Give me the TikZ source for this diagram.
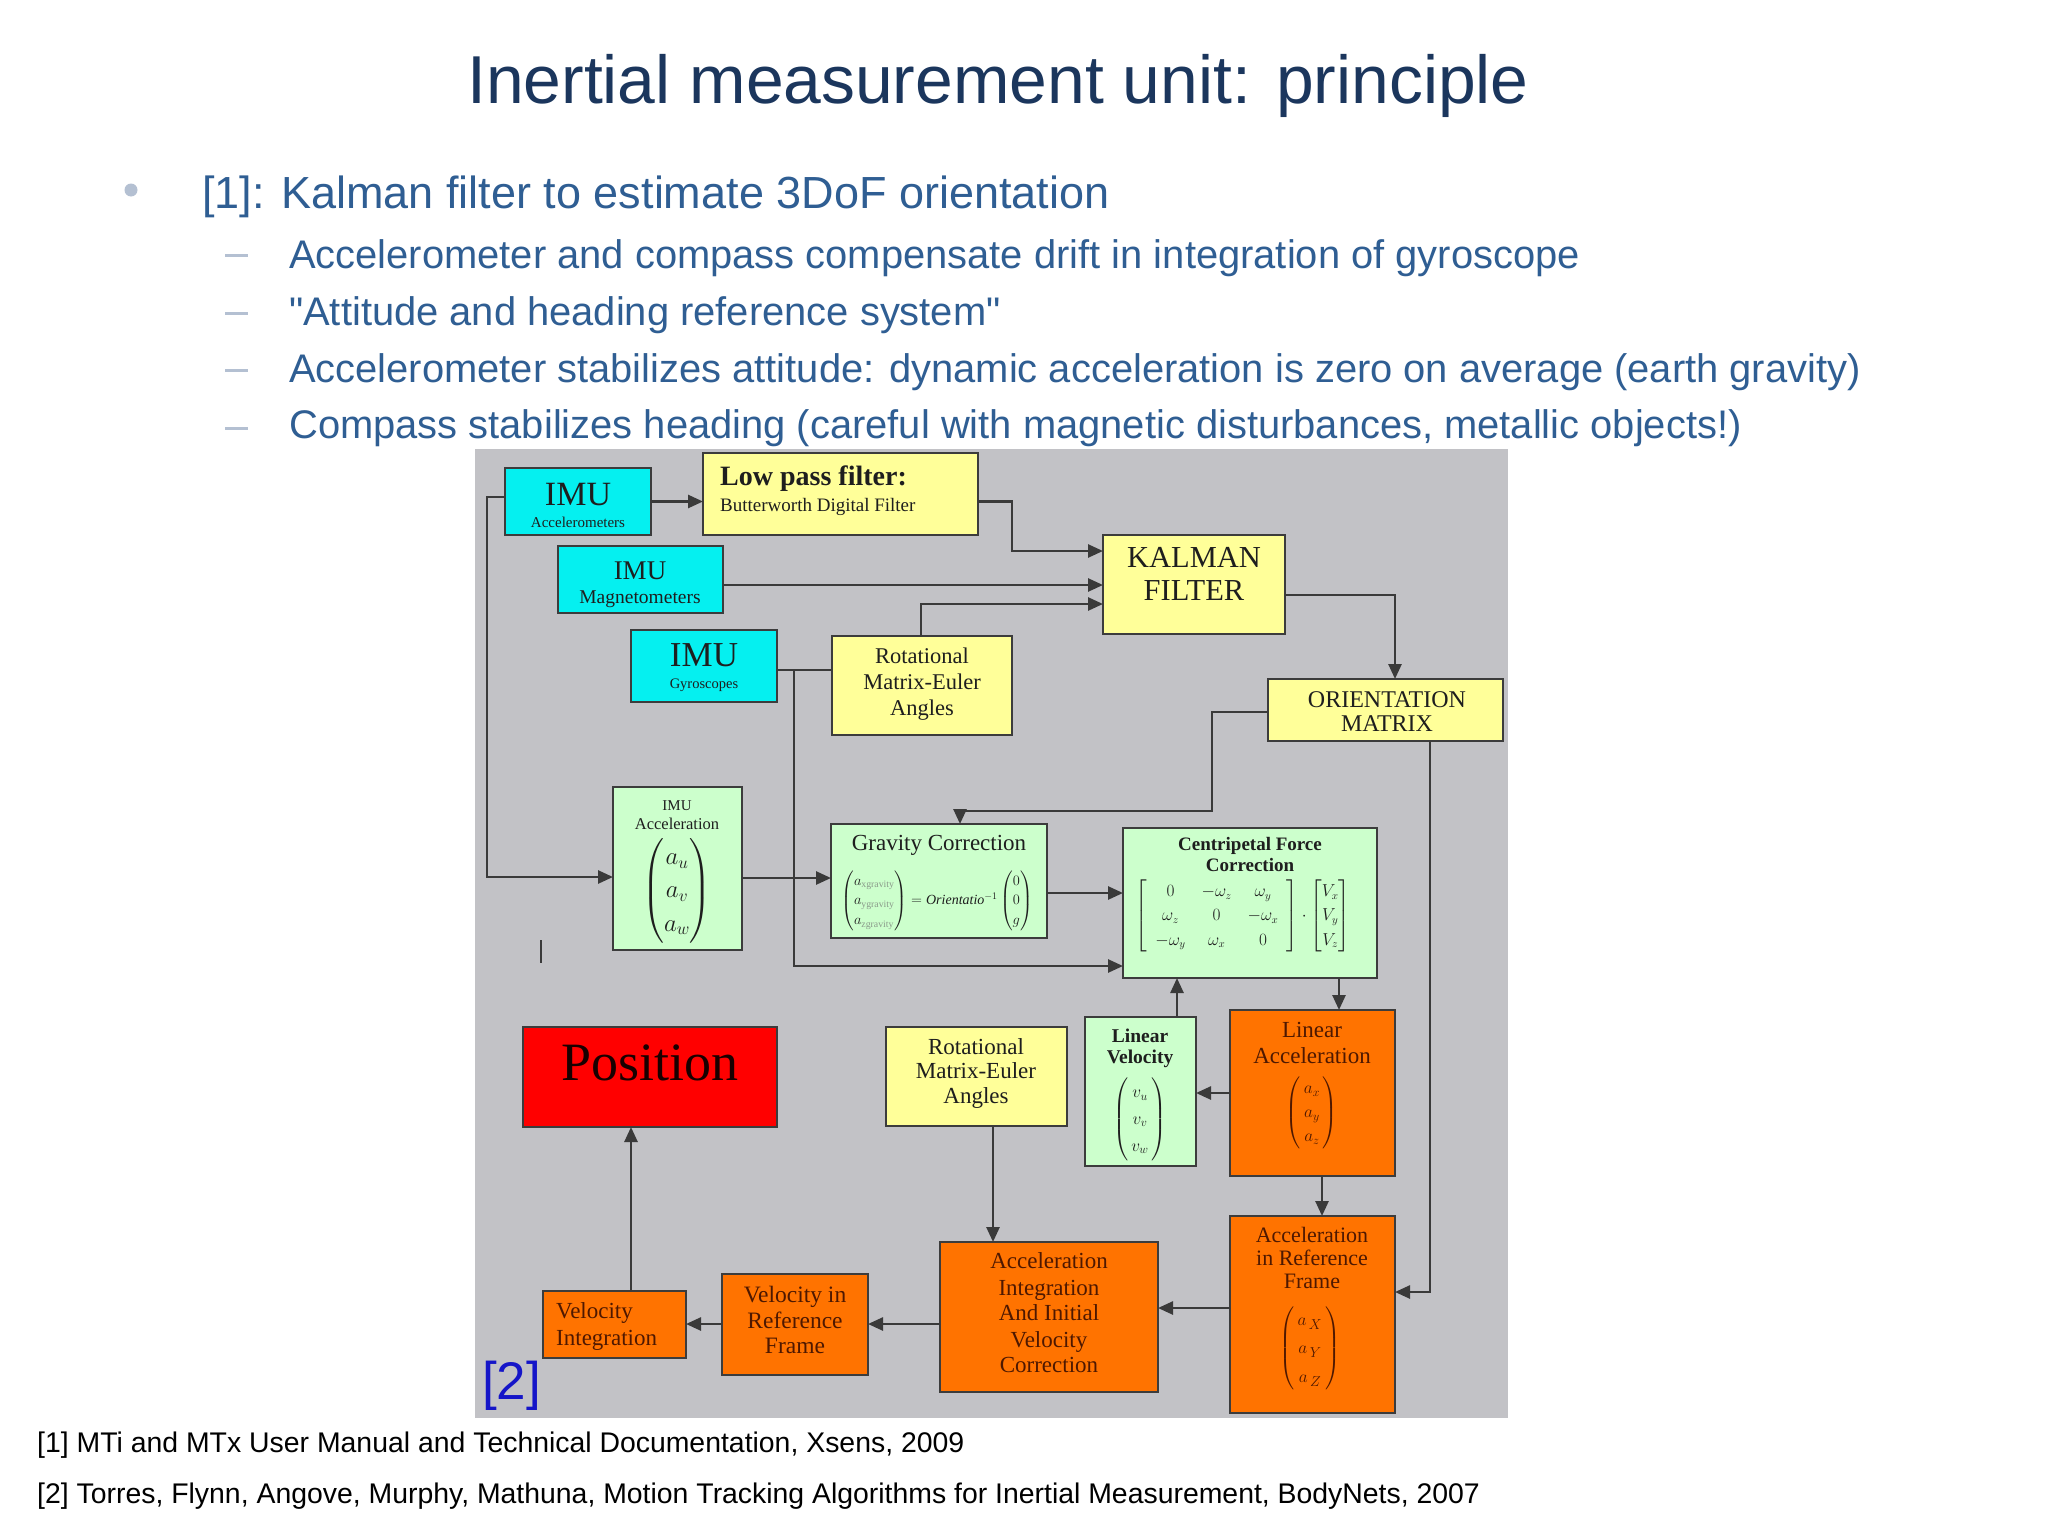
\documentclass[tikz,border=0pt]{standalone}
\usepackage{amsmath}
\usepackage{fontspec}
\setmainfont{Liberation Serif}
\setsansfont{Liberation Sans}
\newfontfamily\qsans{Liberation Sans}
\usetikzlibrary{arrows.meta}
\newcommand{\fsz}[1]{\fontsize{#1}{#1}\selectfont}
\definecolor{bggray}{HTML}{C2C2C6}
\definecolor{cyanc}{HTML}{05F0F0}
\definecolor{ylw}{HTML}{FFFF99}
\definecolor{grn}{HTML}{CCFFCC}
\definecolor{org}{HTML}{FF7300}
\definecolor{redc}{HTML}{FF0000}
\definecolor{boxline}{HTML}{3C3C3C}
\definecolor{linec}{HTML}{3A3A3A}
\definecolor{tdark}{HTML}{1E1E1E}
\definecolor{tbrown}{HTML}{4E1800}
\definecolor{titlec}{HTML}{1B365D}
\definecolor{bodyc}{HTML}{2F5E93}
\definecolor{dashc}{HTML}{B4C0D2}
\definecolor{refblue}{HTML}{1515C8}
\definecolor{subgray}{HTML}{8A9A8A}
\tikzset{
  bx/.style={draw=boxline, line width=2.6pt, inner sep=0pt, outer sep=0pt},
  cyanbox/.style={bx, fill=cyanc},
  ylwbox/.style={bx, fill=ylw},
  grnbox/.style={bx, fill=grn},
  orgbox/.style={bx, fill=org},
  redbox/.style={bx, fill=redc},
  txt/.style={inner sep=0pt, anchor=base, text=tdark},
  otxt/.style={txt, text=tbrown},
  mth/.style={inner sep=0pt, anchor=center, text=tdark},
  conn/.style={draw=linec, line width=2.6pt},
  arr/.style={conn, -{Triangle[length=15pt,width=13pt]}},
  dashmark/.style={fill=dashc, minimum width=23pt, minimum height=3pt, inner sep=0pt},
  sub/.style={anchor=base west, inner sep=0pt, text=bodyc, font=\sffamily\fsz{39.9}},
}
\begin{document}
\begin{tikzpicture}[x=1pt,y=-1pt]
\useasboundingbox (0,0) rectangle (2048,1536);
\fill[white] (0,0) rectangle (2048,1536);

% ---------- slide text ----------
\node[anchor=base, inner sep=0pt, text=titlec, font=\sffamily\fsz{67.8}] (title) at (998,104) {Inertial measurement unit: principle};
\node[circle, fill=dashc, minimum size=13pt, inner sep=0pt] (dot) at (131,190) {};
\node[anchor=base west, inner sep=0pt, text=bodyc, font=\sffamily\fsz{45}] (b1) at (202,208) {[1]: Kalman filter to estimate 3DoF orientation};
\node[dashmark] (dm1) at (236.5,255) {};
\node[dashmark] (dm2) at (236.5,313) {};
\node[dashmark] (dm3) at (236.5,370) {};
\node[dashmark] (dm4) at (236.5,428) {};
\node[sub] (s1) at (289,268) {Accelerometer and compass compensate drift in integration of gyroscope};
\node[sub, font=\qsans\fsz{39.9}] (s2) at (289,325) {"Attitude and heading reference system"};
\node[sub] (s3) at (289,382) {Accelerometer stabilizes attitude: dynamic acceleration is zero on average (earth gravity)};
\node[sub] (s4) at (289,438) {Compass stabilizes heading (careful with magnetic disturbances, metallic objects!)};
\node[anchor=base west, inner sep=0pt, text=black, font=\sffamily\fsz{28.4}] (fn1) at (37,1452) {[1] MTi and MTx User Manual and Technical Documentation, Xsens, 2009};
\node[anchor=base west, inner sep=0pt, text=black, font=\sffamily\fsz{28.4}] (fn2) at (37,1503) {[2] Torres, Flynn, Angove, Murphy, Mathuna, Motion Tracking Algorithms for Inertial Measurement, BodyNets, 2007};

% ---------- diagram background ----------
\node[fill=bggray, minimum width=1033pt, minimum height=969pt, inner sep=0pt] (bg) at (991.5,933) {};

% ---------- boxes ----------
\node[cyanbox, minimum width=146pt, minimum height=67pt] (acc) at (578,501.5) {};
\node[ylwbox, minimum width=275pt, minimum height=82pt] (lpf) at (840.5,494) {};
\node[cyanbox, minimum width=165pt, minimum height=67pt] (mag) at (640.5,579.5) {};
\node[ylwbox, minimum width=182pt, minimum height=99pt] (kal) at (1194,584.5) {};
\node[cyanbox, minimum width=146pt, minimum height=72pt] (gyr) at (704,666) {};
\node[ylwbox, minimum width=180pt, minimum height=99pt] (rot1) at (922,685.5) {};
\node[ylwbox, minimum width=235pt, minimum height=62pt] (ori) at (1385.5,710) {};
\node[grnbox, minimum width=129pt, minimum height=163pt] (imuacc) at (677.5,868.5) {};
\node[grnbox, minimum width=216pt, minimum height=114pt] (grav) at (939,881) {};
\node[grnbox, minimum width=254pt, minimum height=150pt] (cent) at (1250,903) {};
\node[redbox, minimum width=254pt, minimum height=100pt] (pos) at (650,1077) {};
\node[ylwbox, minimum width=181pt, minimum height=99pt] (rot2) at (976.5,1076.5) {};
\node[grnbox, minimum width=111pt, minimum height=149pt] (linvel) at (1140.5,1091.5) {};
\node[orgbox, minimum width=165pt, minimum height=166pt] (linacc) at (1312.5,1093) {};
\node[orgbox, minimum width=165pt, minimum height=197pt] (accref) at (1312.5,1314.5) {};
\node[orgbox, minimum width=218pt, minimum height=150pt] (accint) at (1049,1317) {};
\node[orgbox, minimum width=146pt, minimum height=101pt] (velref) at (795,1324.5) {};
\node[orgbox, minimum width=143pt, minimum height=67pt] (velint) at (614.5,1324.5) {};

% ---------- box texts ----------
\node[txt, font=\fsz{34}] (acc1) at (578,505) {IMU};
\node[txt, font=\fsz{15}] (acc2) at (578,527) {Accelerometers};
\node[txt, anchor=base west, font=\bfseries\fsz{28}] (lpf1) at (720,485) {Low pass filter:};
\node[txt, anchor=base west, font=\fsz{19}] (lpf2) at (720,511) {Butterworth Digital Filter};
\node[txt, font=\fsz{27}] (mag1) at (640,579) {IMU};
\node[txt, font=\fsz{19.5}] (mag2) at (640,603) {Magnetometers};
\node[txt, font=\fsz{35}] (gyr1) at (704,666) {IMU};
\node[txt, font=\fsz{14.5}] (gyr2) at (704,688) {Gyroscopes};
\node[txt, font=\fsz{30.5}] (kal1) at (1194,567) {KALMAN};
\node[txt, font=\fsz{30.5}] (kal2) at (1194,600) {FILTER};
\node[txt, font=\fsz{22.5}] (rta) at (922,663) {Rotational};
\node[txt, font=\fsz{22.5}] (rtb) at (922,689) {Matrix-Euler};
\node[txt, font=\fsz{22.5}] (rtc) at (922,715) {Angles};
\node[txt, font=\fsz{24}] (ori1) at (1387,707) {ORIENTATION};
\node[txt, font=\fsz{24}] (ori2) at (1387,731) {MATRIX};
\node[txt, font=\fsz{15}] (ia1) at (677,810) {IMU};
\node[txt, font=\fsz{16.5}] (ia2) at (677,829) {Acceleration};
\node[mth, font=\fsz{23}] (ia3) at (677,891) {\renewcommand{\arraystretch}{1.45}$\left(\begin{array}{@{}c@{}}a_u\\a_v\\a_w\end{array}\right)$};
\node[txt, font=\fsz{23}] (gr1) at (939,850) {Gravity Correction};
\node[mth, font=\fsz{14}] (gr2) at (937,901) {\renewcommand{\arraystretch}{1.42}$\left(\begin{array}{@{}l@{}}a_{\color{subgray}\mathrm{xgravity}}\\a_{\color{subgray}\mathrm{ygravity}}\\a_{\color{subgray}\mathrm{zgravity}}\end{array}\right)=\mathit{Orientatio}^{-1}\left(\begin{array}{@{}c@{}}0\\0\\g\end{array}\right)$};
\node[txt, font=\bfseries\fsz{19}] (ce1) at (1250,850) {Centripetal Force};
\node[txt, font=\bfseries\fsz{19}] (ce2) at (1250,871) {Correction};
\node[mth, font=\fsz{16}] (ce3) at (1243,916) {\renewcommand{\arraystretch}{1.52}\setlength{\arraycolsep}{8pt}$\left[\begin{array}{ccc}0&-\omega_z&\omega_y\\ \omega_z&0&-\omega_x\\ -\omega_y&\omega_x&0\end{array}\right]\cdot\left[\begin{array}{@{}c@{}}V_x\\V_y\\V_z\end{array}\right]$};
\node[txt, text=black!90!red, font=\fsz{54}] (po1) at (650,1080) {Position};
\node[txt, font=\fsz{23}] (rua) at (976,1054) {Rotational};
\node[txt, font=\fsz{23}] (rub) at (976,1078) {Matrix-Euler};
\node[txt, font=\fsz{23}] (ruc) at (976,1103) {Angles};
\node[txt, font=\bfseries\fsz{19.5}] (lv1) at (1140,1042) {Linear};
\node[txt, font=\bfseries\fsz{19.5}] (lv2) at (1140,1063) {Velocity};
\node[mth, font=\fsz{17}] (lv3) at (1140,1119) {\renewcommand{\arraystretch}{1.58}$\left(\begin{array}{@{}c@{}}\,v_u\,\\\,v_v\,\\\,v_w\,\end{array}\right)$};
\node[otxt, font=\fsz{23}] (la1) at (1312,1037) {Linear};
\node[otxt, font=\fsz{23}] (la2) at (1312,1063) {Acceleration};
\node[mth, text=tbrown, font=\fsz{17}] (la3) at (1312,1113) {\renewcommand{\arraystretch}{1.41}$\left(\begin{array}{@{}c@{}}\,a_x\,\\\,a_y\,\\\,a_z\,\end{array}\right)$};
\node[otxt, font=\fsz{22}] (ar1) at (1312,1242) {Acceleration};
\node[otxt, font=\fsz{22}] (ar2) at (1312,1265) {in Reference};
\node[otxt, font=\fsz{22}] (ar3) at (1312,1288) {Frame};
\node[mth, text=tbrown, font=\fsz{19}] (ar4) at (1310,1348) {\renewcommand{\arraystretch}{1.5}$\left(\begin{array}{@{}c@{}}\,a_{\,X}\,\\\,a_{\,Y}\,\\\,a_{\,Z}\,\end{array}\right)$};
\node[otxt, font=\fsz{23}] (ai1) at (1049,1268) {Acceleration};
\node[otxt, font=\fsz{23}] (ai2) at (1049,1295) {Integration};
\node[otxt, font=\fsz{23}] (ai3) at (1049,1320) {And Initial};
\node[otxt, font=\fsz{23}] (ai4) at (1049,1347) {Velocity};
\node[otxt, font=\fsz{23}] (ai5) at (1049,1372) {Correction};
\node[otxt, font=\fsz{23.5}] (vr1) at (795,1302) {Velocity in};
\node[otxt, font=\fsz{23.5}] (vr2) at (795,1328) {Reference};
\node[otxt, font=\fsz{23.5}] (vr3) at (795,1353) {Frame};
\node[otxt, anchor=base west, font=\fsz{23}] (vi1) at (556,1318) {Velocity};
\node[otxt, anchor=base west, font=\fsz{23}] (vi2) at (556,1345) {Integration};
\node[anchor=base west, inner sep=0pt, text=refblue, font=\sffamily\fsz{53}] (ref2) at (482,1399) {[2]};

% ---------- connectors ----------
\coordinate (b1c) at (1012,501.5);
\coordinate (b2c) at (1012,551);
\coordinate (c1c) at (723,585);
\coordinate (d1c) at (921,604);
\coordinate (e1c) at (1395,595);
\coordinate (f1c) at (1212,712);
\coordinate (f2c) at (1212,811);
\coordinate (f3c) at (960,811);
\coordinate (g1c) at (1430,1292);
\coordinate (h1c) at (487,497);
\coordinate (h2c) at (487,877);
\coordinate (i1c) at (742,878);
\coordinate (j1c) at (794,670);
\coordinate (j2c) at (794,966);
\coordinate (k1c) at (1047,893);
\coordinate (l1c) at (1177,1000);
\coordinate (m1c) at (1339,990);
\coordinate (n1c) at (1200,1093);
\coordinate (o1c) at (1322,1190);
\coordinate (p1c) at (1200,1308);
\coordinate (q1c) at (993,1180);
\coordinate (r1c) at (900,1324);
\coordinate (t1c) at (631,1200);

\draw[arr] (acc.east) -- (acc.east -| lpf.west);
\draw[arr] (lpf.east |- b1c) -- (b1c) -- (b2c) -- (b2c -| kal.west);
\draw[arr] (mag.east |- c1c) -- (c1c -| kal.west);
\draw[arr] (d1c |- rot1.north) -- (d1c) -- (d1c -| kal.west);
\draw[arr] (kal.east |- e1c) -- (e1c) -- (e1c |- ori.north);
\draw[arr] (ori.west |- f1c) -- (f1c) -- (f2c) -- (f3c) -- (f3c |- grav.north);
\draw[arr] (g1c |- ori.south) -- (g1c) -- (g1c -| accref.east);
\draw[arr] (acc.west |- h1c) -- (h1c) -- (h2c) -- (h2c -| imuacc.west);
\draw[arr] (imuacc.east |- i1c) -- (i1c -| grav.west);
\draw[conn] (gyr.east |- j1c) -- (j1c -| rot1.west);
\draw[arr] (j1c) -- (j2c) -- (j2c -| cent.west);
\draw[arr] (grav.east |- k1c) -- (k1c -| cent.west);
\draw[arr] (l1c |- linvel.north) -- (l1c |- cent.south);
\draw[arr] (m1c |- cent.south) -- (m1c |- linacc.north);
\draw[arr] (linacc.west |- n1c) -- (n1c -| linvel.east);
\draw[arr] (o1c |- linacc.south) -- (o1c |- accref.north);
\draw[arr] (accref.west |- p1c) -- (p1c -| accint.east);
\draw[arr] (q1c |- rot2.south) -- (q1c |- accint.north);
\draw[arr] (accint.west |- r1c) -- (r1c -| velref.east);
\draw[arr] (velref.west |- r1c) -- (r1c -| velint.east);
\draw[arr] (t1c |- velint.north) -- (t1c |- pos.south);
\draw[conn] (541,940) -- (541,963);
\end{tikzpicture}
\end{document}
